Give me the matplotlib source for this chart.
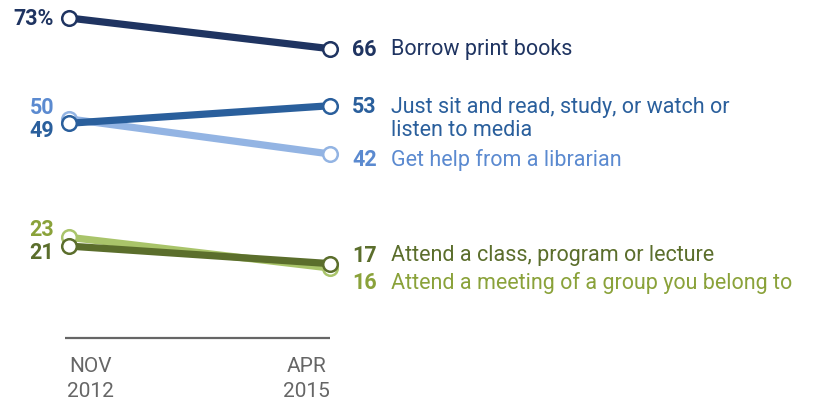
import matplotlib.pyplot as plt

# survey share (%) who did each activity at a library
activities = [
    'Borrow print books',
    'Just sit and read, study, or watch or\nlisten to media',
    'Get help from a librarian',
    'Attend a class, program or lecture',
    'Attend a meeting of a group you belong to',
]
nov_2012 = [73, 49, 50, 21, 23]
apr_2015 = [66, 53, 42, 17, 16]
periods = ['NOV\n2012', 'APR\n2015']

line_colors = ['#1f3461', '#2a5f9c', '#93b4e3', '#5b6e2c', '#a9c46a']
text_colors = ['#1f3461', '#2a5f9c', '#5b8ad0', '#5b6e2c', '#8aa23a']
# draw light lines first so dark ones sit on top
order = [2, 4, 0, 1, 3]

# label nudges in pixels (left, right) where values crowd each other
left_dy = [0, 7, -12, 6, -8]
right_dy = [0, 0, 5, -9, 14]

plt.rcParams['font.family'] = ['Roboto', 'DejaVu Sans']

fig = plt.figure(figsize=(8.13, 4.06), dpi=100)
ax = fig.add_axes([0, 0, 1, 1])
ax.set_xlim(-69 / 261, (813 - 69) / 261)
ax.set_ylim(73 - 387 / 4.386, 73 + 19 / 4.386)
ax.axis('off')

px = 0.72  # points per pixel
fs = 15.5

for z, i in enumerate(order):
    ax.plot([0, 1], [nov_2012[i], apr_2015[i]], color=line_colors[i], lw=5.2,
            solid_capstyle='butt', zorder=3 + z,
            marker='o', markersize=10.5, markerfacecolor='white',
            markeredgecolor=line_colors[i], markeredgewidth=1.8)

for i, name in enumerate(activities):
    lab = f'{nov_2012[i]}%' if i == 0 else str(nov_2012[i])
    ax.annotate(lab, (0, nov_2012[i]), xytext=(-15 * px, -left_dy[i] * px),
                textcoords='offset points', ha='right', va='center',
                fontsize=fs, fontweight='bold', color=text_colors[i])
    ax.annotate(str(apr_2015[i]), (1, apr_2015[i]), xytext=(22 * px, -right_dy[i] * px),
                textcoords='offset points', ha='left', va='center',
                fontsize=fs, fontweight='bold', color=text_colors[i])
    off = -right_dy[i] * px - (12 * px if '\n' in name else 0)
    ax.annotate(name, (1, apr_2015[i]), xytext=(61 * px, off),
                textcoords='offset points', ha='left', va='center',
                fontsize=fs, color=text_colors[i], linespacing=1.1)

# baseline and period labels
base = 73 - (339 - 19) / 4.386
ax.hlines(base, -4 / 261, 1, color='#666666', lw=1.6)
ax.annotate(periods[0], (0, base), xytext=(-2 * px, -18 * px), textcoords='offset points',
            ha='left', va='top', fontsize=15, color='#666666', linespacing=1.4,
            multialignment='center')
ax.annotate(periods[1], (1, base), xytext=(0, -18 * px), textcoords='offset points',
            ha='right', va='top', fontsize=15, color='#666666', linespacing=1.4,
            multialignment='center')

fig.savefig('out.png', dpi=100)
